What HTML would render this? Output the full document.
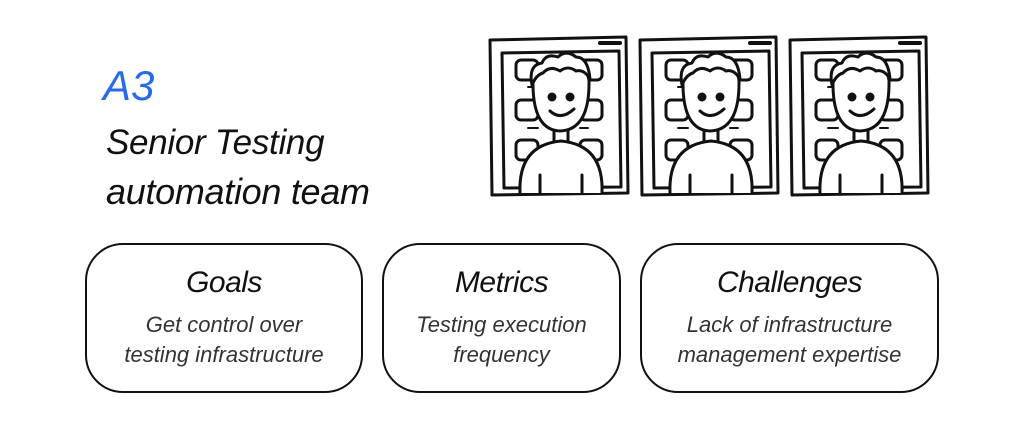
<!DOCTYPE html>
<html><head><style>
body{margin:0;width:1024px;height:426px;background:#fff;overflow:hidden;position:relative;font-family:"Liberation Sans",sans-serif;font-style:italic}
.t{position:absolute;white-space:nowrap}
.box{position:absolute;border:2.5px solid #111;border-radius:38px;box-sizing:border-box;text-align:center}
.box h{display:block;font-size:30px;color:#111;margin-top:21px;letter-spacing:-0.5px}
.box p{margin:10px 0 0;font-size:22px;color:#333;line-height:30px}
</style></head><body>
<div class="t" style="left:103px;top:62px;font-size:42px;color:#2a6ae8">A3</div>
<div class="t" style="left:106px;top:123px;font-size:35px;color:#111;letter-spacing:-0.3px">Senior Testing</div>
<div class="t" style="left:106px;top:171px;font-size:36px;color:#111;letter-spacing:-0.3px">automation team</div>

<svg style="position:absolute;left:0;top:0" width="1024" height="426">
<defs>
<g id="p" fill="none" stroke="#111" stroke-width="3" stroke-linecap="round" stroke-linejoin="round">
<path d="M2 5 L138 2 L140 158 L4 160 Z"/>
<path d="M14 18 L131 16 L133 152 L16 153 Z"/>
<path d="M112 8 L132 8" stroke-width="4"/>
<rect x="28" y="25" width="22" height="20" rx="5"/><rect x="92" y="25" width="22" height="20" rx="5"/>
<rect x="28" y="65" width="22" height="20" rx="5"/><rect x="92" y="65" width="22" height="20" rx="5"/>
<rect x="28" y="105" width="22" height="20" rx="5"/><rect x="92" y="105" width="22" height="20" rx="5"/>
<path d="M40 52 L50 52 M92 52 L100 52 M40 93 L50 93 M92 93 L100 93 M40 133 L50 133 M92 133 L100 133" stroke-width="2"/>
<path d="M45 45 Q44 95 72 96 Q102 95 101 45 Q98 25 73 26 Q47 25 45 45 Z" fill="#fff"/>
<path d="M44 50 Q40 30 54 28 Q58 18 70 22 Q78 14 88 22 Q100 22 102 44 Q96 34 88 36 Q80 30 72 36 Q62 30 55 38 Q48 40 44 50Z" fill="#fff"/>
<path d="M66 96 L66 108 M80 96 L80 108"/>
<path d="M32 158 Q30 110 73 106 Q116 110 114 158" fill="#fff"/>
<path d="M52 140 L52 158 M94 140 L94 158"/>
<circle cx="64" cy="62" r="3" fill="#111"/><circle cx="82" cy="62" r="3" fill="#111"/>
<path d="M62 76 Q73 86 86 74"/>
</g></defs>
<use href="#p" x="488" y="35"/><use href="#p" x="638" y="35"/><use href="#p" x="788" y="35"/>
</svg>

<div class="box" style="left:85px;top:243px;width:278px;height:150px"><h>Goals</h><p>Get control over<br>testing infrastructure</p></div>
<div class="box" style="left:382px;top:243px;width:239px;height:150px"><h>Metrics</h><p>Testing execution<br>frequency</p></div>
<div class="box" style="left:640px;top:243px;width:299px;height:150px"><h>Challenges</h><p>Lack of infrastructure<br>management expertise</p></div>
</body></html>
